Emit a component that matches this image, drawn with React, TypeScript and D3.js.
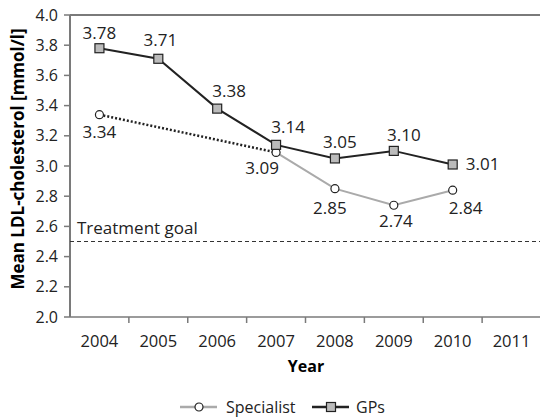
import * as d3 from "d3";

const W = 540;
const H = 419;
const MARGIN = { top: 15, right: -1, bottom: 102, left: 70 };

const years = ["2004", "2005", "2006", "2007", "2008", "2009", "2010", "2011"];
const gpYears = ["2004", "2005", "2006", "2007", "2008", "2009", "2010"];
const gpValues = [3.78, 3.71, 3.38, 3.14, 3.05, 3.1, 3.01];
const specDottedYears = ["2004", "2007"];
const specDottedValues = [3.34, 3.09];
const specYears = ["2007", "2008", "2009", "2010"];
const specValues = [3.09, 2.85, 2.74, 2.84];
const yTicks = [2.0, 2.2, 2.4, 2.6, 2.8, 3.0, 3.2, 3.4, 3.6, 3.8, 4.0];
const goal = 2.5;

// label nudges [dx, dy] relative to the marker
const gpLabelOffsets = [[0, -9], [2, -13], [12, -12], [12, -12], [5, -10], [10, -10], [30, 6]];
const specLabelOffsets: Record<string, number[]> = {
  "2004": [0, 23],
  "2007": [-14, 22],
  "2008": [-5, 25],
  "2009": [2, 22],
  "2010": [13, 24],
};

const FONT = "'Open Sans', 'Noto Sans', sans-serif";
const TEXT = "#222";
const AXIS = "#7a7a7a";

export default function App() {
  const boundsW = W - MARGIN.left - MARGIN.right;
  const boundsH = H - MARGIN.top - MARGIN.bottom;

  const x = d3.scaleBand().domain(years).range([MARGIN.left, MARGIN.left + boundsW]);
  const y = d3.scaleLinear().domain([2, 4]).range([MARGIN.top + boundsH, MARGIN.top]);
  const cx = (yr: string) => (x(yr) ?? 0) + x.bandwidth() / 2;

  const line = d3
    .line<[string, number]>()
    .x((d) => cx(d[0]))
    .y((d) => y(d[1]));

  const gpData = gpYears.map((yr, i) => [yr, gpValues[i]] as [string, number]);
  const specData = specYears.map((yr, i) => [yr, specValues[i]] as [string, number]);
  const dottedData = specDottedYears.map((yr, i) => [yr, specDottedValues[i]] as [string, number]);
  const specPoints = [dottedData[0], ...specData];

  const bottom = y(2);
  const fmt = d3.format(".2f");

  return (
    <svg
      width={W}
      height={H}
      style={{ position: "absolute", left: 0, top: 0, background: "#fff" }}
      fontFamily={FONT}
    >
      {/* frame */}
      <line x1={MARGIN.left} x2={W} y1={y(4)} y2={y(4)} stroke={AXIS} strokeWidth={2} />
      <line x1={MARGIN.left} x2={MARGIN.left} y1={y(4)} y2={bottom} stroke={AXIS} strokeWidth={2} />
      <line x1={MARGIN.left} x2={W} y1={bottom} y2={bottom} stroke={AXIS} strokeWidth={1.5} />

      {/* y axis */}
      {yTicks.map((t) => (
        <g key={t}>
          <line x1={MARGIN.left - 6} x2={MARGIN.left} y1={y(t)} y2={y(t)} stroke={AXIS} strokeWidth={1.5} />
          <text x={58} y={y(t)} dy="0.35em" textAnchor="end" fontSize={16} fill={TEXT}>
            {t.toFixed(1)}
          </text>
        </g>
      ))}
      <text
        transform={`translate(24, 159) rotate(-90)`}
        textAnchor="middle"
        fontSize={17}
        fontWeight="bold"
        fill="#000"
      >
        Mean LDL-cholesterol [mmol/l]
      </text>

      {/* x axis */}
      {years.map((yr) => (
        <g key={yr}>
          <line x1={x(yr)! + x.bandwidth()} x2={x(yr)! + x.bandwidth()} y1={bottom} y2={bottom + 6} stroke={AXIS} strokeWidth={1.5} />
          <text x={cx(yr)} y={347} textAnchor="middle" fontSize={16.5} fill={TEXT}>
            {yr}
          </text>
        </g>
      ))}
      <text x={306} y={372} textAnchor="middle" fontSize={16} fontWeight="bold" fill="#000">
        Year
      </text>

      {/* treatment goal */}
      <line x1={MARGIN.left} x2={W} y1={y(goal)} y2={y(goal)} stroke="#333" strokeWidth={1} strokeDasharray="4,3" />
      <text x={77} y={y(goal) - 8} fontSize={17} fill={TEXT}>
        Treatment goal
      </text>

      {/* specialist */}
      <path d={line(dottedData) ?? ""} fill="none" stroke="#222" strokeWidth={2.5} strokeDasharray="2,2" />
      <path d={line(specData) ?? ""} fill="none" stroke="#aaa" strokeWidth={2} />

      {/* GPs */}
      <path d={line(gpData) ?? ""} fill="none" stroke="#222" strokeWidth={2} />

      {specPoints.map(([yr, v]) => (
        <circle key={yr} cx={cx(yr)} cy={y(v)} r={4} fill="#fff" stroke="#222" strokeWidth={1.2} />
      ))}
      {gpData.map(([yr, v]) => (
        <rect key={yr} x={cx(yr) - 4.5} y={y(v) - 4.5} width={9} height={9} fill="#bbb" stroke="#222" strokeWidth={1.2} />
      ))}

      {/* value labels */}
      {gpData.map(([yr, v], i) => (
        <text
          key={yr}
          x={cx(yr) + gpLabelOffsets[i][0]}
          y={y(v) + gpLabelOffsets[i][1]}
          textAnchor="middle"
          fontSize={17}
          fill={TEXT}
        >
          {fmt(v)}
        </text>
      ))}
      {specPoints.map(([yr, v]) => (
        <text
          key={yr}
          x={cx(yr) + specLabelOffsets[yr][0]}
          y={y(v) + specLabelOffsets[yr][1]}
          textAnchor="middle"
          fontSize={17}
          fill={TEXT}
        >
          {fmt(v)}
        </text>
      ))}

      {/* legend */}
      <g transform="translate(180, 407)">
        <line x1={0} x2={37} y1={0} y2={0} stroke="#aaa" strokeWidth={2.5} />
        <circle cx={19} cy={0} r={4} fill="#fff" stroke="#222" strokeWidth={1.2} />
        <text x={46} y={0} dy="0.35em" fontSize={16} fill={TEXT}>
          Specialist
        </text>
        <line x1={132} x2={169} y1={0} y2={0} stroke="#222" strokeWidth={2.5} />
        <rect x={146.5} y={-4.5} width={9} height={9} fill="#bbb" stroke="#222" strokeWidth={1.2} />
        <text x={176} y={0} dy="0.35em" fontSize={16} fill={TEXT}>
          GPs
        </text>
      </g>
    </svg>
  );
}
